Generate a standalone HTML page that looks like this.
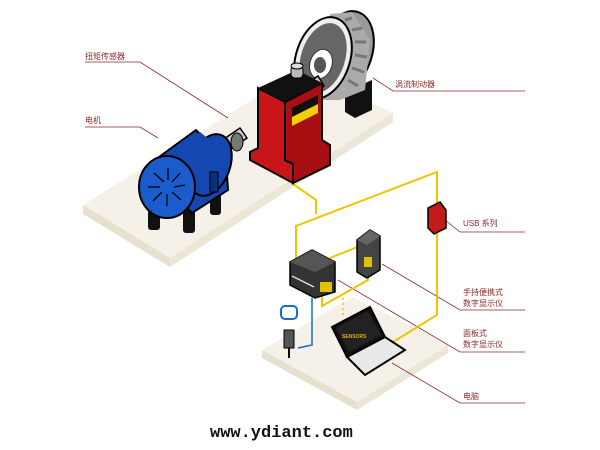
<!DOCTYPE html>
<html><head><meta charset="utf-8"><style>
html,body{margin:0;padding:0;background:#fff;width:600px;height:450px;overflow:hidden}
svg text{font-family:"Liberation Sans","Noto Sans CJK SC",sans-serif;fill:#8b2a2a;font-size:8px}
</style></head><body>
<svg width="600" height="450" viewBox="0 0 600 450" xmlns="http://www.w3.org/2000/svg">
<!-- upper slab -->
<polygon points="83,205 300,70 393,113 170,258" fill="#f5f1e8"/>
<polygon points="83,205 170,258 170,267 83,214" fill="#e6e0cf"/>
<polygon points="170,258 393,113 393,122 170,267" fill="#ebe6d6"/>
<!-- lower slab -->
<polygon points="262,350 352,297 448,345 357,402" fill="#f5f1e8"/>
<polygon points="262,350 357,402 357,410 262,358" fill="#e6e0cf"/>
<polygon points="357,402 448,345 448,353 357,410" fill="#ebe6d6"/>

<!-- label lines -->
<g stroke="#8b2a2a" stroke-width="0.8" fill="none">
<polyline points="85,62 140,62 228,118"/>
<polyline points="85,127 140,127 158,138"/>
<polyline points="373,78 393,91 525,91"/>
<polyline points="445,220 460,232 525,232"/>
<polyline points="382,264 460,310 525,310"/>
<polyline points="338,280 460,352 525,352"/>
<polyline points="392,363 460,403 525,403"/>
</g>
<text x="85" y="59">扭矩传感器</text>
<text x="85" y="123">电机</text>
<text x="395" y="87">涡流制动器</text>
<text x="463" y="226">USB 系列</text>
<text x="463" y="295">手持便携式</text>
<text x="463" y="306">数字显示仪</text>
<text x="463" y="336">面板式</text>
<text x="463" y="347">数字显示仪</text>
<text x="463" y="399">电脑</text>

<!-- yellow cables -->
<g stroke="#f2c400" stroke-width="2" fill="none">
<polyline points="276,172 316,200 316,214"/>
<polyline points="296,262 296,226 437,172 437,315 388,345"/>
<polyline points="330,258 360,246"/>
<polyline points="322,296 322,306 368,280 368,272"/>
</g>
<line x1="343" y1="298" x2="343" y2="318" stroke="#f2c400" stroke-width="1.5" stroke-dasharray="2,3"/>

<!-- brake -->
<polygon points="345,92 372,80 372,110 355,118 345,112" fill="#111"/>
<ellipse cx="345" cy="52" rx="27" ry="42" fill="#999" stroke="#000" stroke-width="2" transform="rotate(18 345 52)"/>
<polygon points="330,14 352,12 370,40 365,90 340,100 318,100" fill="#aaa"/>
<g stroke="#777" stroke-width="3">
<line x1="345" y1="20" x2="352" y2="18"/><line x1="352" y1="30" x2="362" y2="28"/>
<line x1="355" y1="42" x2="366" y2="42"/><line x1="355" y1="55" x2="367" y2="57"/>
<line x1="352" y1="68" x2="364" y2="72"/><line x1="348" y1="80" x2="358" y2="86"/>
</g>
<ellipse cx="323" cy="58" rx="27" ry="42" fill="#eee" stroke="#000" stroke-width="2" transform="rotate(18 323 58)"/>
<ellipse cx="323" cy="58" rx="22" ry="36" fill="#666" transform="rotate(18 323 58)"/>
<ellipse cx="321" cy="64" rx="11" ry="15" fill="#fff" stroke="#333" transform="rotate(18 321 64)"/>
<ellipse cx="320" cy="65" rx="6" ry="8" fill="#555"/>
<!-- shafts -->
<polygon points="287,97 318,76 324,86 293,107" fill="#ccc" stroke="#000" stroke-width="1.5"/>
<rect x="296" y="80" width="12" height="14" fill="#444" transform="rotate(-35 302 87)"/>
<polygon points="205,152 240,128 247,138 212,162" fill="#ccc" stroke="#000" stroke-width="1.5"/>
<rect x="212" y="137" width="14" height="14" fill="#444" transform="rotate(-35 219 144)"/>

<!-- sensor -->
<polygon points="250,152 258,148 258,88 285,102 285,160 293,164 293,183 250,160" fill="#c8151a" stroke="#000" stroke-width="2"/>
<polygon points="285,102 322,83 322,140 330,145 330,165 293,183 293,164 285,160" fill="#a80f12" stroke="#000" stroke-width="2"/>
<polygon points="258,88 297,70 322,83 285,102" fill="#111"/>
<polygon points="292,108 318,95 318,104 292,117" fill="#111"/>
<polygon points="292,117 318,104 318,113 292,126" fill="#f5d000"/>
<rect x="291" y="66" width="12" height="12" rx="4" fill="#bbb" stroke="#000"/>
<ellipse cx="297" cy="66" rx="6" ry="3" fill="#ddd" stroke="#000"/>
<ellipse cx="237" cy="142" rx="6" ry="9" fill="#777" stroke="#000"/>

<!-- motor -->
<rect x="148" y="195" width="12" height="35" rx="3" fill="#111"/>
<rect x="183" y="205" width="12" height="28" rx="3" fill="#111"/>
<rect x="210" y="185" width="11" height="30" rx="3" fill="#111"/>
<polygon points="148,165 196,130 226,160 228,190 192,213" fill="#1448b0" stroke="#000" stroke-width="2"/>
<ellipse cx="210" cy="165" rx="20" ry="32" fill="#1448b0" stroke="#000" stroke-width="2" transform="rotate(20 210 165)"/>
<polygon points="160,160 200,132 222,150 185,180" fill="#1448b0"/>
<ellipse cx="167" cy="187" rx="28" ry="31" fill="#1a5ccc" stroke="#000" stroke-width="2"/>
<g stroke="#000" stroke-width="1.3">
<line x1="164" y1="182" x2="154" y2="173"/><line x1="168" y1="180" x2="168" y2="168"/>
<line x1="172" y1="182" x2="180" y2="173"/><line x1="174" y1="187" x2="185" y2="185"/>
<line x1="172" y1="192" x2="181" y2="200"/><line x1="167" y1="194" x2="167" y2="206"/>
<line x1="162" y1="192" x2="153" y2="201"/><line x1="160" y1="187" x2="148" y2="187"/>
</g>
<rect x="210" y="172" width="8" height="20" fill="#0c2e80" stroke="#000"/>

<!-- USB -->
<polygon points="428,208 440,202 446,210 446,228 434,234 428,228" fill="#c41a1a" stroke="#000" stroke-width="1.5"/>
<!-- handheld -->
<polygon points="357,240 370,230 380,236 380,270 367,278 357,272" fill="#444" stroke="#000" stroke-width="1.5"/>
<polygon points="357,240 370,230 380,236 367,245" fill="#666"/>
<rect x="364" y="257" width="8" height="10" fill="#e0c000"/>
<!-- panel -->
<polygon points="290,262 312,250 335,262 335,292 315,298 290,285" fill="#333" stroke="#000" stroke-width="1.5"/>
<polygon points="290,262 312,250 335,262 315,272" fill="#555"/>
<rect x="320" y="282" width="12" height="10" fill="#e0c000"/>
<line x1="292" y1="276" x2="314" y2="287" stroke="#ddd" stroke-width="1.5"/>
<!-- blue wire and plug -->
<polyline points="312,298 312,345 298,348" fill="none" stroke="#1a6cc8" stroke-width="1.5"/>
<rect x="281" y="306" width="16" height="13" rx="4" fill="#fff" stroke="#1a6cc8" stroke-width="2"/>
<rect x="284" y="330" width="10" height="18" fill="#555" stroke="#000"/>
<line x1="289" y1="348" x2="289" y2="358" stroke="#000" stroke-width="2"/>
<!-- laptop -->
<polygon points="332,327 370,307 385,337 347,357" fill="#111" stroke="#000" stroke-width="2"/>
<polygon points="336,328 368,311 381,335 349,352" fill="#222"/>
<text x="342" y="338" style="fill:#e0b000;font-size:5px;font-weight:bold">SENSORS</text>
<polygon points="347,357 385,337 405,350 365,375" fill="#e8e8e8" stroke="#000" stroke-width="2"/>

<text x="210" y="437" style="font-family:'Liberation Mono',monospace;font-size:17px;font-weight:bold;fill:#111">www.ydiant.com</text>
</svg>
</body></html>
